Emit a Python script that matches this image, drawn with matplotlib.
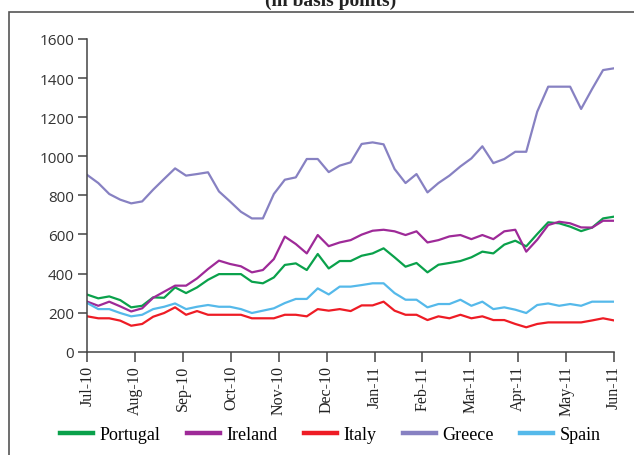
import numpy as np
import matplotlib
matplotlib.use('Agg')
import matplotlib.pyplot as plt
from matplotlib.patches import Rectangle

# weekly spreads, Jul-10 .. Jun-11 (basis points)
months = ['Jul-10', 'Aug-10', 'Sep-10', 'Oct-10', 'Nov-10', 'Dec-10',
          'Jan-11', 'Feb-11', 'Mar-11', 'Apr-11', 'May-11', 'Jun-11']

portugal = [292, 273, 283, 264, 227, 235, 278, 276, 329, 300, 329, 368, 397, 397, 397,
            358, 350, 380, 444, 452, 418, 500, 426, 464, 464, 491, 503, 529, 483, 435,
            454, 406, 445, 454, 464, 483, 512, 503, 548, 568, 539, 602, 662, 657, 640,
            617, 635, 682, 691]
ireland = [256, 235, 256, 232, 206, 222, 276, 307, 338, 338, 375, 423, 466, 449, 437,
           406, 418, 474, 589, 551, 503, 597, 540, 559, 571, 599, 619, 624, 616, 597,
           616, 559, 571, 590, 597, 576, 597, 576, 616, 624, 512, 573, 648, 665, 657,
           636, 635, 670, 670]
italy = [181, 171, 171, 159, 133, 142, 179, 198, 227, 189, 208, 189, 189, 189, 189,
         171, 171, 171, 189, 189, 181, 218, 210, 218, 208, 237, 237, 256, 210, 189,
         189, 162, 181, 171, 189, 171, 181, 162, 162, 142, 125, 142, 150, 150, 150,
         150, 160, 171, 160]
greece = [904, 863, 807, 778, 759, 769, 829, 884, 938, 901, 909, 918, 820, 769, 716,
          682, 682, 807, 880, 892, 986, 986, 919, 952, 969, 1063, 1071, 1061, 935, 863,
          909, 815, 863, 901, 948, 989, 1051, 965, 986, 1023, 1023, 1228, 1356, 1356, 1356,
          1242, 1344, 1441, 1450]
spain = [249, 218, 218, 198, 181, 189, 218, 230, 247, 218, 230, 239, 230, 230, 218,
         198, 210, 222, 249, 270, 270, 324, 293, 333, 333, 341, 350, 350, 300, 266,
         266, 227, 244, 244, 266, 235, 256, 218, 227, 215, 198, 239, 247, 235, 244,
         235, 256, 256, 256]

series = [('Portugal', portugal, '#0aa14b'),
          ('Ireland', ireland, '#9e2a98'),
          ('Italy', italy, '#ee1c25'),
          ('Greece', greece, '#8781c2'),
          ('Spain', spain, '#55b9ea')]

fig = plt.figure(figsize=(6.34, 4.56), dpi=100)
ax = fig.add_axes([0.1377, 0.2265, 0.8308, 0.6858])

x = np.arange(len(portugal))
for name, vals, col in series:
    ax.plot(x, vals, color=col, lw=1.6, label=name)

ax.set_xlim(0, len(portugal) - 1)
ax.set_ylim(0, 1600)
ax.set_yticks(range(0, 1601, 200))
ax.set_yticklabels([str(v) for v in range(0, 1601, 200)],
                   fontfamily='Open Sans', fontsize=11, color='#333333')
ax.set_xticks(np.linspace(0, len(portugal) - 1, len(months)))
ax.set_xticklabels(months, rotation=90, fontfamily='Liberation Serif',
                   fontsize=11.5, color='#222222')

for s in ['top', 'right']:
    ax.spines[s].set_visible(False)
for s in ['left', 'bottom']:
    ax.spines[s].set_color('#444444')
    ax.spines[s].set_linewidth(1.1)
ax.tick_params(axis='y', direction='out', length=6.5, width=1.1, color='#444444', pad=3)
ax.tick_params(axis='x', direction='out', length=7, width=1.1, color='#444444', pad=2.5)

fig.legend(loc='center', bbox_to_anchor=(0.521, 0.045), ncol=5, frameon=False,
           prop={'family': 'Liberation Serif', 'size': 13},
           handlelength=1.85, handletextpad=0.35, columnspacing=1.45)
for line in fig.legends[0].get_lines():
    line.set_linewidth(3.2)

# outer box and clipped title
fig.patches.append(Rectangle((9 / 634, -0.1), 1.2, 1 - 13 / 456 + 0.1,
                             transform=fig.transFigure, fill=False,
                             edgecolor='#555555', lw=1.2))
fig.text(0.521, 1 - 6 / 456, '(in basis points)', ha='center', va='baseline',
         fontfamily='Liberation Serif', fontweight='bold', fontsize=14, color='#222222')

fig.savefig('out.png', dpi=100)
